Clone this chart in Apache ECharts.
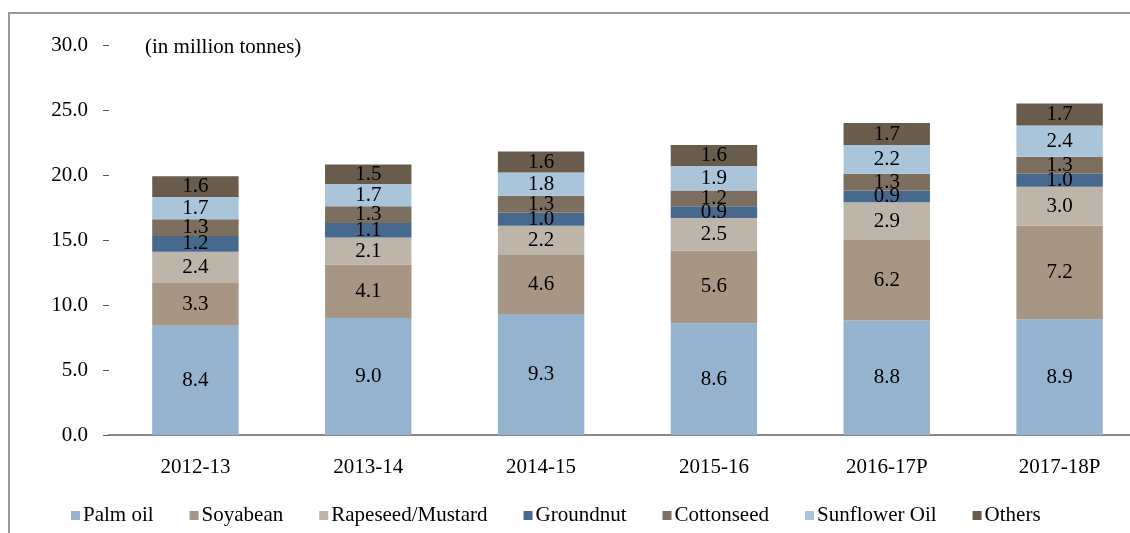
<!DOCTYPE html>
<html>
<head>
<meta charset="utf-8">
<script src="https://cdn.jsdelivr.net/npm/echarts@6/dist/echarts.min.js"></script>
<style>
  html, body { margin: 0; padding: 0; background: #fff; overflow: hidden; }
  /* plot runs past the right edge of the window in the original, so the canvas is wider */
  #main { width: 1160px; height: 533px; }
</style>
</head>
<body>
<div id="main"></div>
<script>
// years on the x axis
var years = ["2012-13", "2013-14", "2014-15", "2015-16", "2016-17P", "2017-18P"];
var names = ["Palm oil", "Soyabean", "Rapeseed/Mustard", "Groundnut", "Cottonseed", "Sunflower Oil", "Others"];

var palmOil    = [8.4, 9.0, 9.3, 8.6, 8.8, 8.9];
var soyabean   = [3.3, 4.1, 4.6, 5.6, 6.2, 7.2];
var rapeseed   = [2.4, 2.1, 2.2, 2.5, 2.9, 3.0];
var groundnut  = [1.2, 1.1, 1.0, 0.9, 0.9, 1.0];
var cottonseed = [1.3, 1.3, 1.3, 1.2, 1.3, 1.3];
var sunflower  = [1.7, 1.7, 1.8, 1.9, 2.2, 2.4];
var others     = [1.6, 1.5, 1.6, 1.6, 1.7, 1.7];

var colors = ["#95B3CF", "#A79684", "#BDB5A9", "#46698D", "#7C6F5F", "#AAC4DA", "#6A5C4C"];
var FONT = "Liberation Serif";

var chart = echarts.init(document.getElementById("main"));

function makeSeries(name, data) {
  return {
    name: name,
    type: "bar",
    stack: "total",
    barCategoryGap: "50%",
    data: data,
    label: {
      show: true,
      position: "inside",
      color: "#000",
      fontFamily: FONT,
      fontSize: 21,
      formatter: function (p) { return p.value.toFixed(1); }
    }
  };
}

var option = {
  animation: false,
  color: colors,
  textStyle: { fontFamily: FONT },
  graphic: [
    {
      // outer frame
      type: "rect",
      shape: { x: 9, y: 13, width: 1140, height: 540 },
      style: { fill: "none", stroke: "#9a9a9a", lineWidth: 2 }
    }
  ],
  title: {
    text: "(in million tonnes)",
    left: 140,
    top: 32,
    textStyle: { fontFamily: FONT, fontSize: 21, fontWeight: "normal", color: "#000" }
  },
  legend: {
    data: names,
    left: 66,
    top: 500,
    icon: "rect",
    itemWidth: 9,
    itemHeight: 9,
    itemGap: 36,
    textStyle: { fontFamily: FONT, fontSize: 21, color: "#000", padding: [0, 0, 0, -2] }
  },
  grid: { left: 109, top: 45, width: 1037, height: 390 },
  xAxis: {
    type: "category",
    data: years,
    axisLine: { lineStyle: { color: "#888", width: 2 } },
    axisTick: { show: false },
    axisLabel: { color: "#000", fontFamily: FONT, fontSize: 21, margin: 22 }
  },
  yAxis: {
    type: "value",
    min: 0,
    max: 30,
    interval: 5,
    axisLine: { show: false },
    axisTick: { show: true, length: 6, lineStyle: { color: "#555" } },
    splitLine: { show: false },
    axisLabel: {
      color: "#000",
      fontFamily: FONT,
      fontSize: 21,
      margin: 21,
      formatter: function (v) { return v.toFixed(1); }
    }
  },
  series: [
    makeSeries(names[0], palmOil),
    makeSeries(names[1], soyabean),
    makeSeries(names[2], rapeseed),
    makeSeries(names[3], groundnut),
    makeSeries(names[4], cottonseed),
    makeSeries(names[5], sunflower),
    makeSeries(names[6], others)
  ]
};

chart.setOption(option);
</script>
</body>
</html>
